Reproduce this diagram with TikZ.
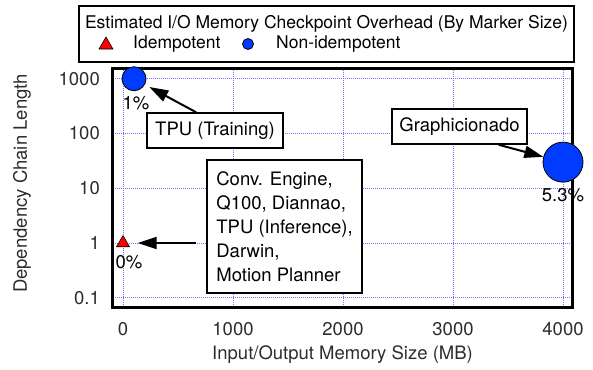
\documentclass[tikz,border=0pt]{standalone}
\usepackage{fontspec}
\setmainfont{TeX Gyre Heros}
\usetikzlibrary{arrows.meta,positioning,shapes.geometric}

\definecolor{markerblue}{RGB}{0,60,255}
\definecolor{markerred}{RGB}{255,0,0}
\definecolor{gridblue}{RGB}{115,115,255}
\definecolor{axistext}{RGB}{45,45,45}

\newcommand{\plotfont}{\fontsize{18.5}{24}\selectfont}
\newcommand{\keyfont}{\fontsize{17.5}{21}\selectfont}

\tikzset{
  gridline/.style={gridblue, densely dotted, line width=1pt},
  infobox/.style={draw, line width=1.5pt, fill=white, inner xsep=6pt, inner ysep=0pt, font=\plotfont},
  pointer/.style={-{Triangle[length=19pt,width=12pt]}, line width=2pt},
  idemmark/.style={regular polygon, regular polygon sides=3, draw, fill=markerred, line width=0.6pt, inner sep=0pt, minimum size=15pt},
  nonidemmark/.style={circle, draw, fill=markerblue, line width=0.8pt, inner sep=0pt},
  pctlabel/.style={font=\plotfont, inner sep=0pt},
  axislabel/.style={font=\plotfont, text=axistext},
}

\begin{document}
\begin{tikzpicture}[x=1pt,y=-1pt]
\useasboundingbox (0,0) rectangle (593,369);

% legend
\draw[line width=1.5pt] (79,6) rectangle (574,62);
\node[font=\keyfont] (keytitle) at (326.5,24) {Estimated I/O Memory Checkpoint Overhead (By Marker Size)};
\node[idemmark, minimum size=16pt] (keyidem) at (106,45) {};
\node[font=\keyfont, anchor=west, inner sep=0pt] (keyidemtext) at (133,44) {Idempotent};
\node[nonidemmark, minimum size=11pt] (keynonidem) at (248,44) {};
\node[font=\keyfont, anchor=west, inner sep=0pt] (keynonidemtext) at (276,44) {Non-idempotent};

% plot area, in MB and decades
\begin{scope}[shift={(123,243)}, x=0.11pt, y=54.75pt]
  \foreach \m in {0,1000,...,4000}
    \draw[gridline] (\m,-1.169) -- (\m,3.196);
  \foreach \d in {-1,...,3}
    \draw[gridline] (-91,\d) -- (4082,\d);
  \draw[line width=3pt] (-91,-1.169) rectangle (4082,3.196);

  % tick labels
  \foreach \m in {0,1000,...,4000}
    \node[axislabel, inner sep=0pt] at (\m,-1.571) {\m};
  \foreach \d/\lab in {-1/0.1,0/1,1/10,2/100,3/1000}
    \node[axislabel, anchor=east, inner sep=0pt] at (-209,\d) {\lab};

  % markers
  \node[idemmark] (idem) at (0,0) {};
  \node[nonidemmark, minimum size=24pt] (tpu) at (100,3) {};
  \node[nonidemmark, minimum size=40pt] (graph) at (4000,1.477) {};
\end{scope}

\node[pctlabel, below=5pt of tpu, xshift=2pt] (tpupct) {1\%};
\node[pctlabel, below=6pt of graph] (graphpct) {5.3\%};
\node[pctlabel, below=8pt of idem, xshift=6pt] (idempct) {0\%};

% call-outs
\node[infobox, minimum width=136pt, minimum height=35pt] (tpubox) at (215,130.5) {TPU (Training)};
\node[infobox, minimum width=135pt, minimum height=35pt] (graphbox) at (459.5,126.5) {Graphicionado};
\node[infobox, align=left, minimum width=155pt, minimum height=133pt] (convbox) at (284.5,226.5)
  {Conv. Engine,\\ Q100, Diannao,\\ TPU (Inference),\\ Darwin,\\ Motion Planner};
\coordinate (convtail) at (196,243);

\draw[pointer, shorten >=5pt] (tpubox.136) -- (tpu);
\draw[pointer] (graphbox.-25) -- (graph);
\draw[pointer, shorten >=10pt] (convtail) -- (idem);

% axis titles
\node[axislabel, rotate=90] (ylabel) at (22,183.5) {Dependency Chain Length};
\node[axislabel] (xlabel) at (342.5,355) {Input/Output Memory Size (MB)};
\end{tikzpicture}
\end{document}
